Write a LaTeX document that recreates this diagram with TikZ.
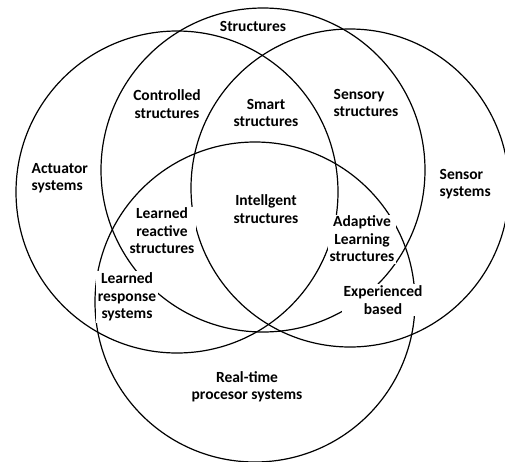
\documentclass[tikz,border=0pt]{standalone}
\usepackage{fontspec}
\setmainfont{Carlito}
\begin{document}
\begin{tikzpicture}[x=1pt,y=-1pt,
  ring/.style={circle,draw,line width=1.2pt,minimum size=#1,inner sep=0pt},
  lab/.style={font=\bfseries\fontsize{15.5}{17.5}\selectfont,align=center,fill=white,inner sep=1.5pt},
  labl/.style={lab,align=left},
]
\useasboundingbox[fill=white] (0,0) rectangle (505,461);
% circles
\node[ring=324pt] (cstruct) at (263,170) {};
\node[ring=322pt] (cact) at (177,192) {};
\node[ring=318pt] (csens) at (350,188) {};
\node[ring=320pt] (creal) at (255,302) {};
% labels
\node[lab] (structures) at (253,26) {Structures};
\node[lab] (controlled) at (167,104) {Controlled\\structures};
\node[lab] (smart) at (266,113) {Smart\\structures};
\node[labl,anchor=west] (sensory) at (332,103) {Sensory\\structures};
\node[labl,anchor=west] (actuator) at (30,178) {Actuator\\systems};
\node[labl,anchor=west] (sensor) at (438,184) {Sensor\\systems};
\node[lab] (intelligent) at (266,209) {Intellgent\\structures};
\node[lab] (reactive) at (162,231) {Learned\\reactive\\structures};
\node[lab] (adaptive) at (362,239) {Adaptive\\Learning\\structures};
\node[lab] (response) at (127,297) {Learned\\response\\systems};
\node[lab] (experienced) at (383,300) {Experienced\\based};
\node[lab] (realtime) at (247,387) {Real-time\\procesor systems};
\end{tikzpicture}
\end{document}
